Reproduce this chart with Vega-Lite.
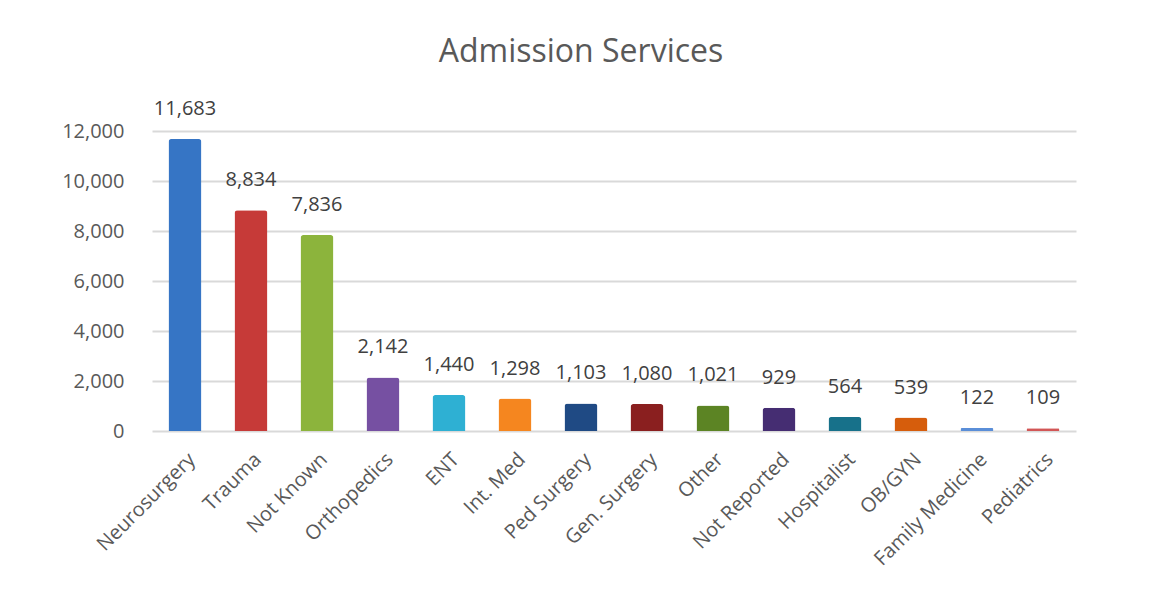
{
  "$schema": "https://vega.github.io/schema/vega-lite/v6.json",
  "autosize": "none",
  "width": 924,
  "height": 300,
  "padding": {"left": 152, "top": 131, "right": 77, "bottom": 166},
  "background": "white",
  "title": {
    "text": "Admission Services",
    "fontSize": 32,
    "font": "Open Sans",
    "fontWeight": "normal",
    "color": "#595959",
    "anchor": "middle",
    "dx": -33,
    "offset": 30
  },
  "data": {
    "values": [
      {"service": "Neurosurgery", "count": 11683, "color": "#3675c5"},
      {"service": "Trauma", "count": 8834, "color": "#c63a38"},
      {"service": "Not Known", "count": 7836, "color": "#8cb43c"},
      {"service": "Orthopedics", "count": 2142, "color": "#7650a2"},
      {"service": "ENT", "count": 1440, "color": "#2eb0d3"},
      {"service": "Int. Med", "count": 1298, "color": "#f5861f"},
      {"service": "Ped Surgery", "count": 1103, "color": "#1f4a84"},
      {"service": "Gen. Surgery", "count": 1080, "color": "#8a1f1f"},
      {"service": "Other", "count": 1021, "color": "#5c8424"},
      {"service": "Not Reported", "count": 929, "color": "#452d72"},
      {"service": "Hospitalist", "count": 564, "color": "#17718a"},
      {"service": "OB/GYN", "count": 539, "color": "#d65d0c"},
      {"service": "Family Medicine", "count": 122, "color": "#5a8ed8"},
      {"service": "Pediatrics", "count": 109, "color": "#d25656"}
    ]
  },
  "encoding": {
    "x": {
      "field": "service",
      "type": "nominal",
      "sort": null,
      "scale": {"paddingInner": 0.5, "paddingOuter": 0.25},
      "axis": {
        "title": null,
        "labelAngle": -45,
        "labelFontSize": 20,
        "labelFont": "Open Sans",
        "labelColor": "#595959",
        "labelPadding": 18,
        "ticks": false,
        "domain": false
      }
    },
    "y": {
      "field": "count",
      "type": "quantitative",
      "scale": {"domain": [0, 12000]},
      "axis": {
        "title": null,
        "values": [0, 2000, 4000, 6000, 8000, 10000, 12000],
        "format": ",d",
        "labelFontSize": 20,
        "labelFont": "Open Sans",
        "labelColor": "#595959",
        "labelPadding": 28,
        "ticks": false,
        "domain": false,
        "gridColor": "#d9d9d9",
        "gridWidth": 2
      }
    }
  },
  "layer": [
    {
      "mark": {"type": "bar", "cornerRadiusTopLeft": 3, "cornerRadiusTopRight": 3},
      "encoding": {
        "color": {"field": "color", "type": "nominal", "scale": null}
      }
    },
    {
      "mark": {"type": "text", "baseline": "bottom", "dy": -20, "fontSize": 20, "font": "Open Sans", "color": "#404040"},
      "encoding": {
        "text": {"field": "count", "type": "quantitative", "format": ",d"}
      }
    }
  ],
  "config": {"view": {"stroke": null}}
}
